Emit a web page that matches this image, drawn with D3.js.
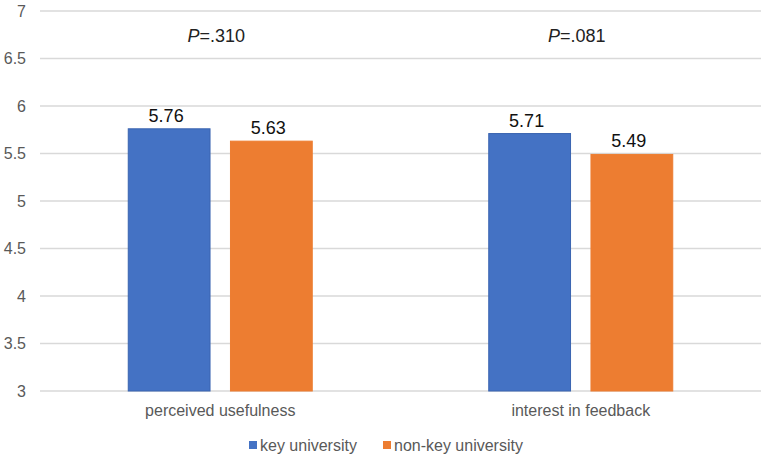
<!DOCTYPE html>
<html><head><meta charset="utf-8">
<script src="https://cdn.jsdelivr.net/npm/d3@7"></script>
<style>body{margin:0;background:#fff}svg{display:block;font-family:"Liberation Sans",Arial,sans-serif}</style>
</head><body><svg id="c" width="765" height="459"></svg>
<script>
const categories = ["perceived usefulness", "interest in feedback"];
const seriesNames = ["key university", "non-key university"];
const keyUniversity = [5.76, 5.71];
const nonKeyUniversity = [5.63, 5.49];
const pLabels = [".310", ".081"];
const yTicks = [3, 3.5, 4, 4.5, 5, 5.5, 6, 6.5, 7];
const colors = ["#4472C4", "#ED7D31"];
const strokes = ["#3a64b0", "#ED7D31"];

const svg = d3.select("#c");
const mLeft = 40, mRight = 761, mTop = 11, mBottom = 391;
const y = d3.scaleLinear().domain([3, 7]).range([mBottom, mTop]);
const x0 = d3.scaleBand().domain(categories).range([mLeft, mRight]);
const groupW = 184;
const x1 = d3.scaleBand().domain(seriesNames)
  .range([(x0.bandwidth() - groupW) / 2, (x0.bandwidth() + groupW) / 2]).paddingInner(0.2);

// gridlines
svg.append("g").selectAll("line").data(yTicks).join("line")
  .attr("x1", mLeft).attr("x2", mRight)
  .attr("y1", d => y(d)).attr("y2", d => y(d))
  .attr("stroke", "#d9d9d9").attr("stroke-width", 1.3);

// y axis labels
const yAxis = d3.axisLeft(y).tickValues(yTicks).tickSize(0).tickPadding(0).tickFormat(d3.format("~g"));
const ya = svg.append("g").attr("transform", `translate(26,0)`).call(yAxis);
ya.select(".domain").remove();
ya.selectAll("text").attr("fill", "#595959").style("font-size", "16px")
  .style("font-family", '"Liberation Sans",Arial,sans-serif');

// bars
const values = [keyUniversity, nonKeyUniversity];
const rows = categories.map((c, i) => seriesNames.map((s, j) => ({c, s, j, v: values[j][i]})));
const g = svg.append("g").selectAll("g").data(rows).join("g")
  .attr("transform", d => `translate(${x0(d[0].c)},0)`);
g.selectAll("rect").data(d => d).join("rect")
  .attr("x", d => x1(d.s)).attr("width", x1.bandwidth())
  .attr("y", d => y(d.v)).attr("height", d => y(3) - y(d.v))
  .attr("fill", d => colors[d.j]).attr("stroke", d => strokes[d.j]).attr("stroke-width", 1);
g.selectAll("text.v").data(d => d).join("text").attr("class", "v")
  .attr("x", d => x1(d.s) + x1.bandwidth() / 2 - 3)
  .attr("y", d => y(d.v) - 7)
  .attr("text-anchor", "middle").attr("fill", "#111").style("font-size", "18px")
  .text(d => d.v.toFixed(2));

// P annotations
svg.append("g").selectAll("text").data(categories).join("text")
  .attr("x", d => x0(d) + x0.bandwidth() / 2 - 4)
  .attr("y", 42).attr("text-anchor", "middle").attr("fill", "#222").style("font-size", "18px")
  .each(function(d, i) {
    const t = d3.select(this);
    t.append("tspan").attr("font-style", "italic").text("P");
    t.append("tspan").text("=" + pLabels[i]);
  });

// category labels
svg.append("g").selectAll("text").data(categories).join("text")
  .attr("x", d => x0(d) + x0.bandwidth() / 2)
  .attr("y", 416).attr("text-anchor", "middle").attr("fill", "#595959").style("font-size", "16px")
  .text(d => d);

// legend
const legX = [249, 383];
const lg = svg.append("g").selectAll("g").data(seriesNames).join("g")
  .attr("transform", (d, i) => `translate(${legX[i]},441)`);
lg.append("rect").attr("width", 8).attr("height", 8).attr("fill", (d, i) => colors[i]);
lg.append("text").attr("x", 11).attr("y", 10).attr("fill", "#595959").style("font-size", "16px").text(d => d);
</script></body></html>
